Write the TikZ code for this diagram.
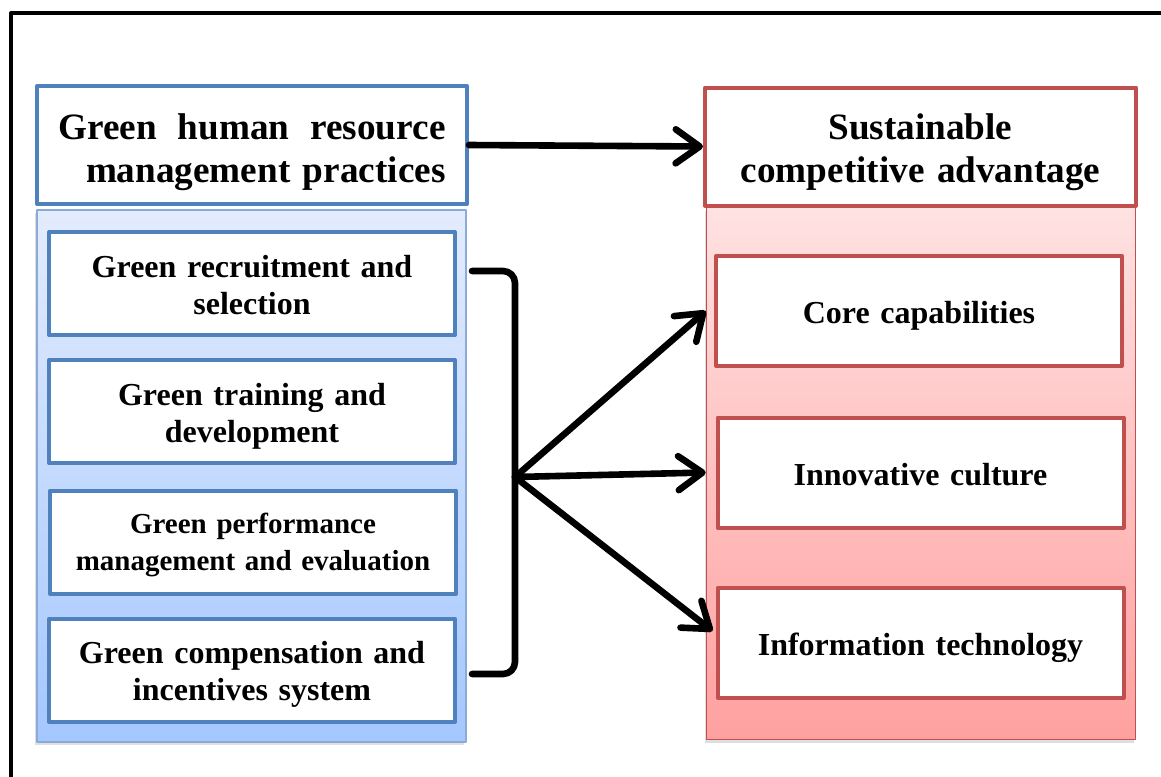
\documentclass[tikz,border=0pt]{standalone}
\usepackage{fontspec}
\setmainfont{Liberation Serif}
\usetikzlibrary{arrows.meta,shadows,calc}
\definecolor{hrblue}   {RGB}{ 79,129,189}
\definecolor{hrpanel}  {RGB}{140,170,215}
\definecolor{hrtop}    {RGB}{227,236,253}
\definecolor{hrbottom} {RGB}{164,199,255}
\definecolor{sared}    {RGB}{192, 80, 77}
\definecolor{satop}    {RGB}{255,226,226}
\definecolor{sabottom} {RGB}{255,160,160}

\begin{document}
\begin{tikzpicture}[
  % one unit = one pixel of the 1161 x 776 layout
  x=0.5pt,y=-0.5pt,
  line cap=round,line join=round,
  >={Straight Barb[length=12pt,width=17pt,round]},
  link/.style={line width=3.3pt,black},
  % fixed text height/depth keep the two-line blocks at the same place
  headbox/.style={fill=white,line width=2pt,inner sep=0pt,
    minimum width=215pt,minimum height=59pt,
    text height=16pt,text depth=21.5pt,
    font=\fontsize{18.6}{21.5}\selectfont\bfseries},
  panelbox/.style={line width=0.8pt,inner sep=0pt,
    minimum width=214.5pt,minimum height=266pt,
    drop shadow={shadow xshift=-0.8pt,shadow yshift=-1.5pt,opacity=0.25}},
  hrmbox/.style={draw=hrblue,fill=white,line width=2pt,inner sep=0pt,
    minimum width=203pt,minimum height=51.5pt,text width=197pt,align=center,
    text height=12pt,text depth=18.5pt,
    font=\fontsize{16}{18.5}\selectfont\bfseries},
  sabox/.style={hrmbox,draw=sared,minimum height=55pt,
    text height=14pt,text depth=1.5pt}
]
\useasboundingbox (0,0) rectangle (1161,776);
\clip (0,0) rectangle (1161,776);

% ---- outer frame ---------------------------------------------------------
\draw[line width=2pt] (11,800) -- (11,13) -- (1200,13);

% ---- background panels ---------------------------------------------------
\node[panelbox,draw=hrpanel,top color=hrtop,bottom color=hrbottom]
  (hrmpanel) at (251.5,476) {};
\node[panelbox,draw=sared,top color=satop,bottom color=sabottom]
  (sapanel) at (921,473.5) {};

% ---- headers -------------------------------------------------------------
\node[headbox,draw=hrblue,text width=193.5pt,align=right] (ghrm) at (252,145)
  {\makebox[193.5pt][s]{Green\hfill human\hfill resource}\\management practices};
\node[headbox,draw=sared,minimum width=215.5pt,text width=205pt,align=center,
  text height=14.5pt] (sca) at (920.5,146.5) {Sustainable\\competitive advantage};

% ---- GHRM practices ------------------------------------------------------
\node[hrmbox] (recruit) at (252,283.5) {Green recruitment and\\selection};
\node[hrmbox] (training) at (252,411.5) {Green training and\\development};
\node[hrmbox,font=\fontsize{14.5}{18.5}\selectfont\bfseries,text height=10.2pt]
  (perform) at (253,542) {Green performance\\management and evaluation};
\node[hrmbox] (reward) at (252,670) {Green compensation and\\incentives system};

% ---- advantage sources ---------------------------------------------------
\node[sabox] (core) at (919,311) {Core capabilities};
\node[sabox] (innov) at (920.5,472.5) {Innovative culture};
\node[sabox] (infotech) at (920.5,643) {Information technology};

% ---- connectors ----------------------------------------------------------
\coordinate (brtop) at (472,271);
\coordinate (brbot) at (472,674);
\coordinate (hub) at (515,477);

\draw[link,->] (ghrm.east) -- (sca.west);
\draw[link,rounded corners=6pt] (brtop) -- (brtop -| hub) -- (brbot -| hub) -- (brbot);
\draw[link,->] (hub) -- (core.west -| sapanel.west);
\draw[link,->] (hub) -- (innov.west -| sapanel.west);
\draw[link,->] (hub) -- ($(infotech.west)+(-3,-12)$);

\end{tikzpicture}
\end{document}
